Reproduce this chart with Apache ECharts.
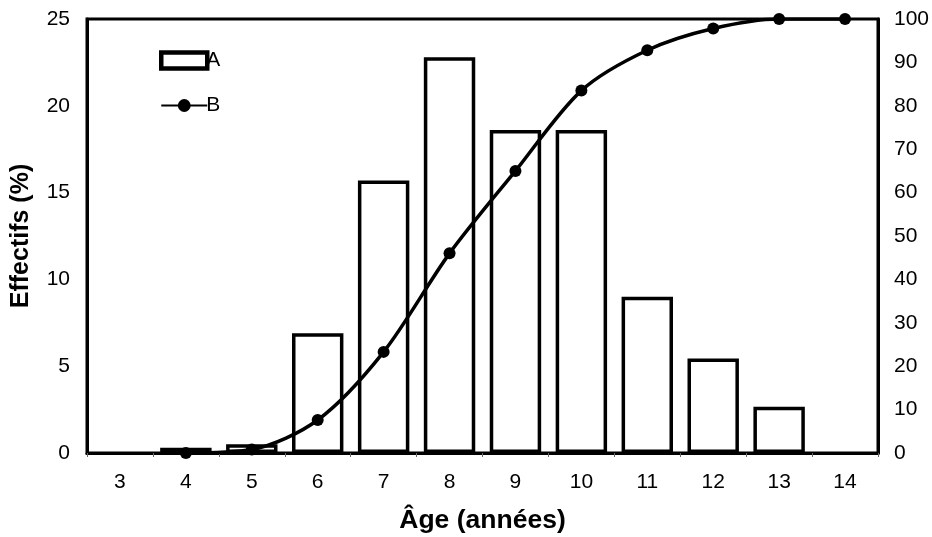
<!DOCTYPE html>
<html><head><meta charset="utf-8">
<script src="https://cdn.jsdelivr.net/npm/echarts@6/dist/echarts.min.js"></script>
<style>html,body{margin:0;padding:0;background:#fff}#c{width:932px;height:537px}</style>
</head><body><div id="c"></div>
<script>
const categories = ['3','4','5','6','7','8','9','10','11','12','13','14'];
const effectifsA = [null, 0.3, 0.5, 6.9, 15.7, 22.8, 18.6, 18.6, 9.0, 5.45, 2.67, null];
const cumulB = [null, 0, 0.8, 7.6, 23.3, 46.0, 65.0, 83.5, 92.8, 97.8, 100, 100];
const leftTicks = {min: 0, max: 25, interval: 5};
const rightTicks = {min: 0, max: 100, interval: 10};

const chart = echarts.init(document.getElementById('c'));
const font = 'Liberation Sans, Arial, sans-serif';
chart.setOption({
  animation: false,
  backgroundColor: '#fff',
  grid: {left: 87, right: 54, top: 19, bottom: 84, containLabel: false, outerBoundsMode: 'none',
         show: true, borderColor: '#000', borderWidth: 3, backgroundColor: 'transparent'},
  legend: {
    orient: 'vertical', left: 154, top: 45, itemGap: 24,
    itemWidth: 46, itemHeight: 16,
    itemStyle: {borderWidth: 4.5},
    textStyle: {fontFamily: font, fontSize: 21, color: '#000', padding: [0,0,0,-6]},
    data: [{name: 'A', icon: 'rect'}, {name: 'B'}]
  },
  xAxis: {
    type: 'category', data: categories, boundaryGap: true,
    name: 'Âge (années)', nameLocation: 'middle', nameGap: 54, nameMoveOverlap: false,
    nameTextStyle: {fontFamily: font, fontSize: 26.5, fontWeight: 'bold', color: '#000'},
    axisLine: {lineStyle: {color: '#000', width: 3}},
    axisTick: {show: true, length: 4, lineStyle: {color: '#666', width: 1}},
    axisLabel: {fontFamily: font, fontSize: 21, color: '#000', margin: 19}
  },
  yAxis: [{
    type: 'value', min: leftTicks.min, max: leftTicks.max, interval: leftTicks.interval,
    name: 'Effectifs (%)', nameLocation: 'middle', nameGap: 53, nameRotate: 90, nameMoveOverlap: false,
    nameTextStyle: {fontFamily: font, fontSize: 25, fontWeight: 'bold', color: '#000'},
    axisLine: {show: true, lineStyle: {color: '#000', width: 3}},
    axisTick: {show: false}, splitLine: {show: false},
    axisLabel: {fontFamily: font, fontSize: 21, color: '#000', margin: 17}
  }, {
    type: 'value', position: 'right', min: rightTicks.min, max: rightTicks.max, interval: rightTicks.interval,
    axisLine: {show: true, lineStyle: {color: '#000', width: 3}},
    axisTick: {show: false}, splitLine: {show: false},
    axisLabel: {fontFamily: font, fontSize: 21, color: '#000', margin: 16}
  }],
  series: [{
    name: 'A', type: 'bar', data: effectifsA, yAxisIndex: 0, barWidth: '78%', z: 2,
    itemStyle: {color: '#fff', borderColor: '#000', borderWidth: 3.5}
  }, {
    name: 'B', type: 'line', data: cumulB, yAxisIndex: 1, smooth: 0.3, z: 5,
    symbol: 'circle', symbolSize: 12, showSymbol: true,
    lineStyle: {color: '#000', width: 3.5}, itemStyle: {color: '#000'}
  }]
});
</script></body></html>
